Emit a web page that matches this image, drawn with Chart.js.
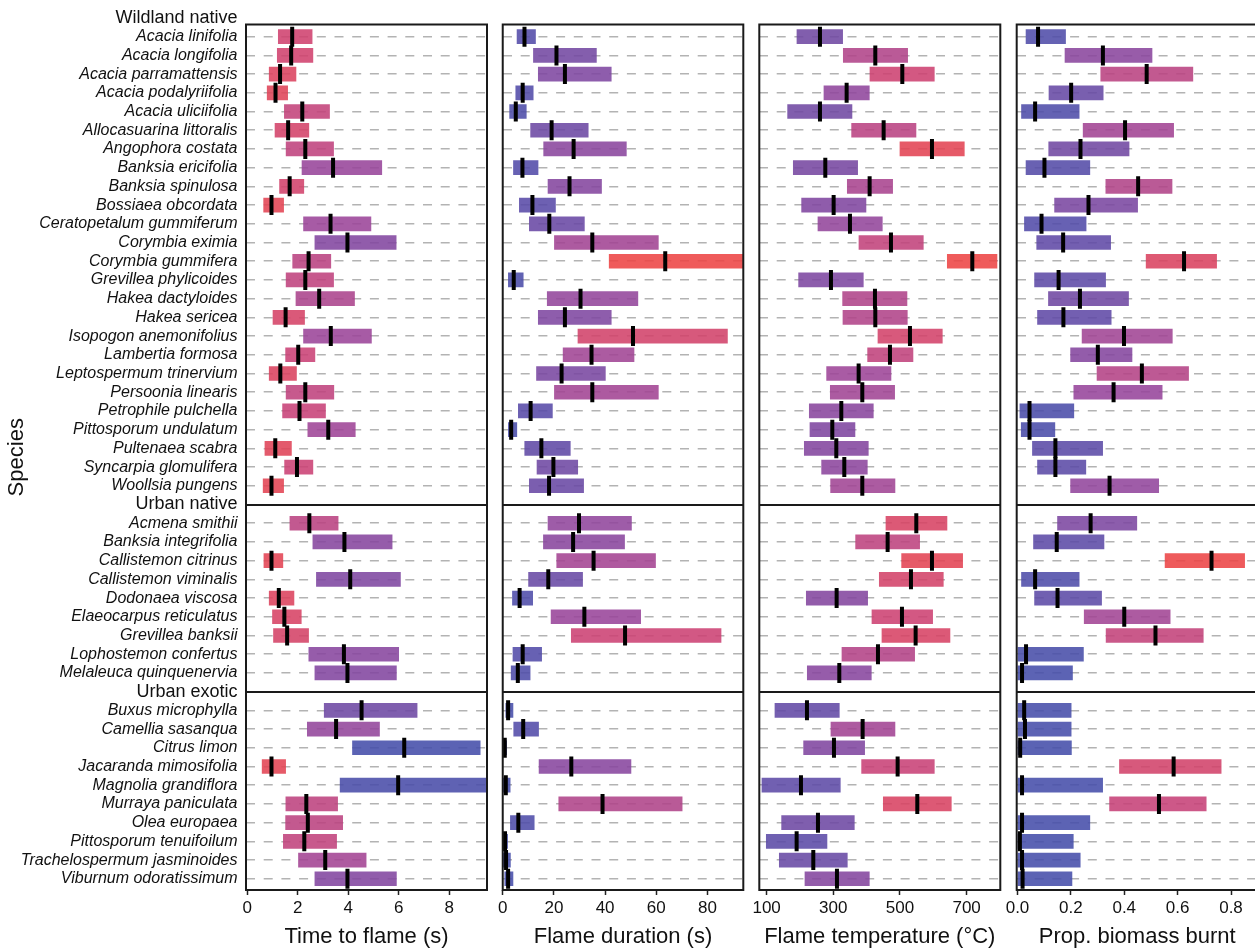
<!DOCTYPE html>
<html>
<head>
<meta charset="utf-8">
<script src="https://cdn.jsdelivr.net/npm/chart.js@4.4.1/dist/chart.umd.min.js"></script>
<style>
  html, body { margin: 0; padding: 0; background: #fff; overflow: hidden; }
  body { width: 1255px; height: 950px; position: relative; }
  canvas { position: absolute; top: 0; }
</style>
</head>
<body>
<canvas id="c1" width="495" height="950" style="left:0px"></canvas>
<canvas id="c2" width="255" height="950" style="left:495px"></canvas>
<canvas id="c3" width="267" height="950" style="left:740px"></canvas>
<canvas id="c4" width="274" height="950" style="left:990px"></canvas>
<script>
    const FONT = "'Liberation Sans', Arial, Helvetica, sans-serif";

    const groupNames = ['Wildland native', 'Urban native', 'Urban exotic'];
    const wildlandNative = ['Acacia linifolia', 'Acacia longifolia', 'Acacia parramattensis', 'Acacia podalyriifolia',
        'Acacia uliciifolia', 'Allocasuarina littoralis', 'Angophora costata', 'Banksia ericifolia', 'Banksia spinulosa',
        'Bossiaea obcordata', 'Ceratopetalum gummiferum', 'Corymbia eximia', 'Corymbia gummifera', 'Grevillea phylicoides',
        'Hakea dactyloides', 'Hakea sericea', 'Isopogon anemonifolius', 'Lambertia formosa', 'Leptospermum trinervium',
        'Persoonia linearis', 'Petrophile pulchella', 'Pittosporum undulatum', 'Pultenaea scabra', 'Syncarpia glomulifera',
        'Woollsia pungens'];
    const urbanNative = ['Acmena smithii', 'Banksia integrifolia', 'Callistemon citrinus', 'Callistemon viminalis',
        'Dodonaea viscosa', 'Elaeocarpus reticulatus', 'Grevillea banksii', 'Lophostemon confertus', 'Melaleuca quinquenervia'];
    const urbanExotic = ['Buxus microphylla', 'Camellia sasanqua', 'Citrus limon', 'Jacaranda mimosifolia',
        'Magnolia grandiflora', 'Murraya paniculata', 'Olea europaea', 'Pittosporum tenuifoilum',
        'Trachelospermum jasminoides', 'Viburnum odoratissimum'];

    // time to flame (s)
    const ttfLow = [1.23, 1.19, 0.87, 0.79, 1.47, 1.10, 1.54, 2.17, 1.28, 0.65, 2.23, 2.68, 1.80, 1.54, 1.93, 1.02, 2.23, 1.52, 0.87, 1.54, 1.40, 2.40, 0.70, 1.48, 0.63,
        1.69, 2.60, 0.66, 2.74, 0.87, 1.00, 1.04, 2.44, 2.68,
        3.05, 2.38, 4.17, 0.59, 3.68, 1.53, 1.52, 1.43, 2.03, 2.68];
    const ttfHigh = [2.57, 2.60, 1.93, 1.60, 3.26, 2.44, 3.42, 5.33, 2.24, 1.44, 4.90, 5.90, 3.31, 3.42, 4.25, 2.27, 4.92, 2.68, 1.95, 3.43, 3.10, 4.28, 1.75, 2.60, 1.44,
        3.60, 5.74, 1.41, 6.07, 1.85, 2.14, 2.43, 6.00, 5.91,
        6.73, 5.24, 9.23, 1.52, 10.2, 3.58, 3.78, 3.54, 4.71, 5.91];
    const ttfMedian = [1.78, 1.74, 1.30, 1.12, 2.18, 1.62, 2.30, 3.40, 1.68, 0.96, 3.30, 3.97, 2.43, 2.30, 2.85, 1.52, 3.31, 2.02, 1.31, 2.30, 2.07, 3.21, 1.11, 1.97, 0.96,
        2.46, 3.85, 0.96, 4.08, 1.25, 1.47, 1.58, 3.83, 3.97,
        4.53, 3.52, 6.22, 0.96, 5.98, 2.34, 2.40, 2.26, 3.09, 3.97];

    // flame duration (s)
    const durLow = [5.6, 12.0, 13.9, 5.1, 2.7, 10.9, 16.0, 4.2, 17.7, 6.5, 10.4, 20.2, 41.6, 2.2, 17.4, 13.9, 29.4, 23.6, 13.2, 20.2, 6.1, 2.2, 8.6, 13.4, 10.4,
        17.7, 15.9, 21.1, 10.1, 3.8, 18.9, 26.8, 4.0, 3.3,
        1.2, 4.3, 0.1, 14.2, 0.2, 21.9, 3.0, 0.1, 0.2, 0.8];
    const durHigh = [12.8, 36.6, 42.4, 11.9, 9.2, 33.4, 48.3, 13.8, 38.6, 20.6, 31.9, 60.8, 105, 8.0, 52.8, 42.4, 87.8, 51.3, 40.1, 60.8, 19.4, 5.5, 26.4, 29.3, 31.6,
        50.3, 47.6, 59.7, 31.2, 11.7, 53.9, 85.3, 15.2, 10.7,
        4.0, 14.0, 1.5, 50.1, 2.9, 70.1, 12.3, 1.9, 3.0, 4.0];
    const durMedian = [8.5, 21.0, 24.3, 7.8, 5.1, 19.1, 27.7, 7.7, 26.1, 11.6, 18.2, 35.0, 63.5, 4.3, 30.4, 24.3, 50.9, 34.7, 23.0, 35.0, 10.9, 3.3, 15.1, 19.8, 18.1,
        29.8, 27.5, 35.5, 17.8, 6.6, 31.9, 47.8, 7.8, 5.9,
        2.1, 8.0, 0.8, 26.8, 1.2, 39.0, 6.1, 0.9, 1.3, 2.1];

    // flame temperature (°C)
    const tempLow = [191, 330, 410, 272, 163, 355, 500, 180, 342, 205, 254, 377, 642, 196, 328, 329, 434, 403, 280, 291, 228, 230, 213, 265, 292,
        458, 367, 505, 438, 219, 416, 446, 326, 222,
        125, 293, 211, 385, 86, 450, 145, 99, 138, 215];
    const tempHigh = [328, 523, 603, 408, 356, 548, 693, 373, 478, 398, 447, 570, 791, 390, 521, 522, 627, 539, 473, 484, 420, 365, 405, 402, 485,
        641, 559, 688, 630, 403, 598, 650, 544, 414,
        318, 485, 394, 603, 321, 654, 363, 281, 342, 408];
    const tempMedian = [260, 426, 507, 340, 260, 451, 596, 276, 409, 301, 350, 473, 717, 293, 425, 426, 530, 470, 376, 387, 324, 297, 309, 333, 387,
        549, 463, 596, 533, 310, 506, 547, 434, 318,
        221, 388, 302, 493, 203, 552, 254, 190, 240, 311];

    // proportion of biomass burnt
    const burntLow = [0.032, 0.178, 0.312, 0.118, 0.015, 0.246, 0.117, 0.032, 0.331, 0.139, 0.026, 0.072, 0.482, 0.064, 0.116, 0.075, 0.242, 0.199, 0.298, 0.211, 0.009, 0.014, 0.056, 0.075, 0.199,
        0.150, 0.060, 0.553, 0.015, 0.064, 0.250, 0.332, 0, 0,
        0, 0, 0, 0.382, 0, 0.345, 0, 0, 0, 0];
    const burntHigh = [0.180, 0.504, 0.657, 0.321, 0.231, 0.585, 0.418, 0.271, 0.579, 0.450, 0.257, 0.349, 0.746, 0.330, 0.416, 0.351, 0.580, 0.429, 0.641, 0.542, 0.211, 0.140, 0.319, 0.256, 0.529,
        0.447, 0.324, 0.851, 0.231, 0.315, 0.572, 0.696, 0.247, 0.206,
        0.201, 0.201, 0.202, 0.763, 0.319, 0.707, 0.271, 0.209, 0.235, 0.204];
    const burntMedian = [0.077, 0.320, 0.484, 0.201, 0.066, 0.403, 0.236, 0.101, 0.452, 0.266, 0.090, 0.171, 0.624, 0.154, 0.234, 0.172, 0.399, 0.301, 0.466, 0.360, 0.045, 0.045, 0.142, 0.142, 0.345,
        0.274, 0.147, 0.727, 0.066, 0.150, 0.400, 0.517, 0.032, 0.017,
        0.025, 0.028, 0.010, 0.585, 0.017, 0.530, 0.017, 0.009, 0.017, 0.019];

    const ttfTicks = [0, 2, 4, 6, 8];
    const durTicks = [0, 20, 40, 60, 80];
    const tempTicks = [100, 300, 500, 700];
    const burntTicks = [0, 0.2, 0.4, 0.6, 0.8];

    // one row per label, group headers sit on the group boundaries
    const rowLabels = [groupNames[0], ...wildlandNative, groupNames[1], ...urbanNative, groupNames[2], ...urbanExotic];
    const headerRows = [0, 1 + wildlandNative.length, 2 + wildlandNative.length + urbanNative.length];
    const speciesRows = rowLabels.map((l, i) => i).filter(i => !headerRows.includes(i));

    // blue (low flammability) -> red (high flammability), drawn at 0.88 alpha
    const ramp = [[0, [68, 77, 170]], [0.25, [99, 73, 165]], [0.5, [153, 68, 154]], [0.75, [204, 65, 115]], [1, [237, 68, 68]]];
    function rampColour(t) {
        t = Math.max(0, Math.min(1, t));
        for (let i = 1; i < ramp.length; i++) {
            if (t <= ramp[i][0]) {
                const [t0, c0] = ramp[i - 1], [t1, c1] = ramp[i];
                const f = (t - t0) / (t1 - t0);
                const c = c0.map((v, k) => Math.round(v + (c1[k] - v) * f));
                return `rgba(${c[0]}, ${c[1]}, ${c[2]}, 0.88)`;
            }
        }
    }

    const framePlugin = {
        id: 'frame',
        afterDatasetsDraw(chart) {
            const { ctx, chartArea: a } = chart;
            ctx.save();
            ctx.strokeStyle = '#1a1a1a';
            ctx.lineWidth = 2;
            ctx.strokeRect(a.left, a.top, a.right - a.left, a.bottom - a.top);
            ctx.restore();
        }
    };

    const panels = [
        { id: 'c1', title: 'Time to flame (s)', low: ttfLow, high: ttfHigh, mid: ttfMedian, ticks: ttfTicks,
          min: -0.05, max: 9.5, blue: 6.22, red: 0.5, padLeft: 0, padRight: 8, labels: true, fmt: v => String(v) },
        { id: 'c2', title: 'Flame duration (s)', low: durLow, high: durHigh, mid: durMedian, ticks: durTicks,
          min: 0, max: 94, blue: 0.8, red: 63.5, padLeft: 7.3, padRight: 6.7, labels: false, fmt: v => String(v) },
        { id: 'c3', title: 'Flame temperature (°C)', low: tempLow, high: tempHigh, mid: tempMedian, ticks: tempTicks,
          min: 78, max: 801, blue: 90, red: 640, padLeft: 19.3, padRight: 6.7, labels: false, fmt: v => String(v) },
        { id: 'c4', title: 'Prop. biomass burnt', low: burntLow, high: burntHigh, mid: burntMedian, ticks: burntTicks,
          min: -0.003, max: 0.9, blue: 0.01, red: 0.73, padLeft: 26.7, padRight: 6.3, labels: false, fmt: v => v.toFixed(1) }
    ];

    const isHeader = ctx => ctx.tick && headerRows.includes(ctx.tick.value);
    // group boundaries get a solid rule, except the first header which sits above the frame
    const gridColour = ctx => {
        if (!isHeader(ctx)) return '#b3b3b3';
        return ctx.tick.value === headerRows[0] ? 'rgba(0,0,0,0)' : '#1a1a1a';
    };

    panels.forEach(p => {
        const colours = p.mid.map(m => rampColour((m - p.blue) / (p.red - p.blue)));
        new Chart(document.getElementById(p.id), {
            type: 'bar',
            data: {
                datasets: [
                    {
                        type: 'line',
                        data: speciesRows.map((r, i) => ({ x: p.mid[i], y: r })),
                        showLine: false,
                        pointStyle: 'line',
                        pointRotation: 90,
                        pointRadius: 10,
                        pointBorderWidth: 4,
                        pointBorderColor: '#000',
                        pointBackgroundColor: '#000',
                        order: 0
                    },
                    {
                        data: speciesRows.map((r, i) => ({ y: r, x: [p.low[i], p.high[i]] })),
                        backgroundColor: colours,
                        borderWidth: 0,
                        barThickness: 14,
                        order: 1
                    }
                ]
            },
            options: {
                indexAxis: 'y',
                responsive: false,
                animation: false,
                layout: { autoPadding: false, padding: { top: 24.5, bottom: 0, left: p.padLeft, right: p.padRight } },
                plugins: { legend: { display: false }, tooltip: { enabled: false } },
                scales: {
                    x: {
                        type: 'linear', position: 'bottom', min: p.min, max: p.max, bounds: 'data', offset: false,
                        afterBuildTicks: s => { s.ticks = p.ticks.map(v => ({ value: v })); },
                        afterFit: s => { s.height = 60; },
                        ticks: { color: '#111', font: { family: FONT, size: 17 }, padding: 3, maxRotation: 0, autoSkip: false, callback: p.fmt },
                        grid: { drawOnChartArea: false, drawTicks: true, tickLength: 5, tickColor: '#222', tickWidth: 1.5, offset: false },
                        border: { display: false },
                        title: { display: true, text: p.title, color: '#111', font: { family: FONT, size: 22 }, padding: { top: 0, bottom: 0 } }
                    },
                    y: {
                        type: 'linear', reverse: true, min: 0.35, max: 46.6, bounds: 'data', offset: false,
                        afterBuildTicks: s => { s.ticks = rowLabels.map((l, i) => ({ value: i })); },
                        afterFit: s => { s.width = p.labels ? 246 : 0; },
                        ticks: {
                            display: p.labels, autoSkip: false, padding: 8.5, color: '#111',
                            callback: v => rowLabels[v],
                            font: ctx => isHeader(ctx)
                                ? { family: FONT, size: 18, style: 'normal' }
                                : { family: FONT, size: 16, style: 'italic' }
                        },
                        grid: {
                            offset: false,
                            drawTicks: false,
                            color: gridColour,
                            lineWidth: ctx => isHeader(ctx) ? 2 : 1.5
                        },
                        border: { display: false, dash: ctx => isHeader(ctx) || !ctx.tick ? [] : [9, 8.7] },
                        title: { display: p.labels, text: 'Species', color: '#111', font: { family: FONT, size: 22 }, padding: { top: 3.5, bottom: 0 } }
                    }
                }
            },
            plugins: [framePlugin]
        });
    });
</script>
</body>
</html>
